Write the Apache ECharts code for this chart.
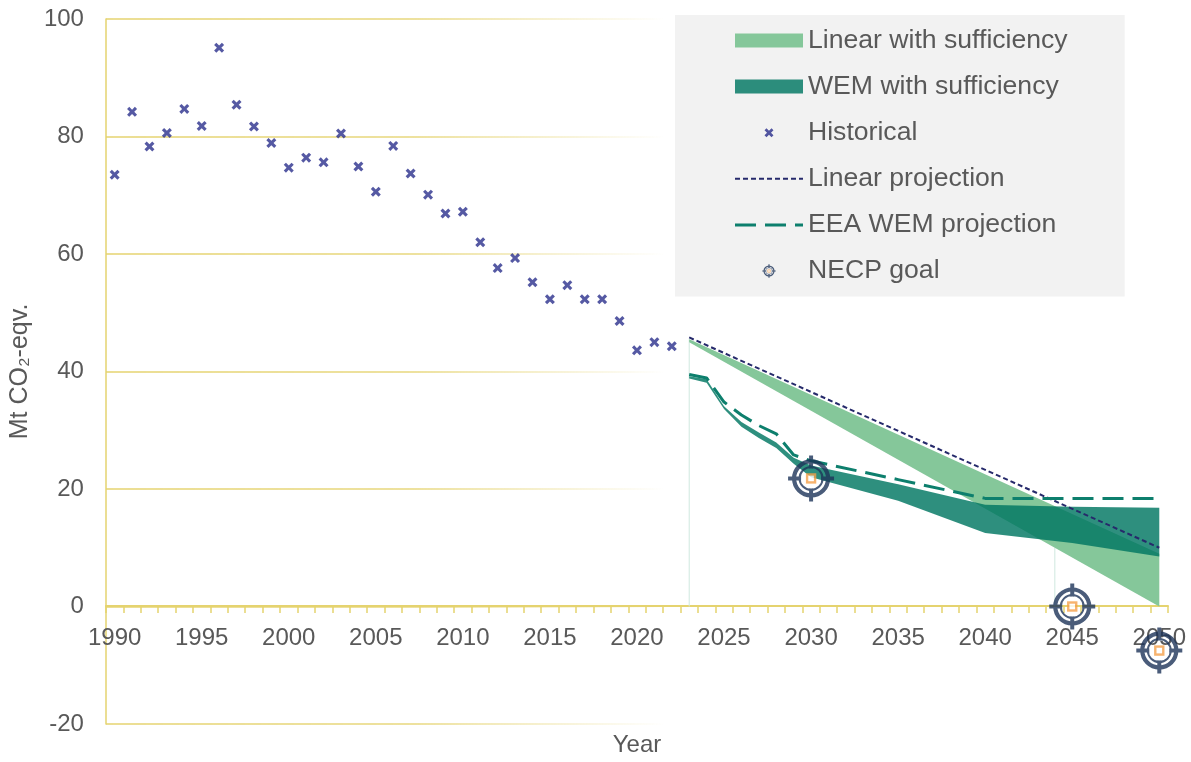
<!DOCTYPE html>
<html>
<head>
<meta charset="utf-8">
<script src="https://cdn.jsdelivr.net/npm/echarts@6/dist/echarts.min.js"></script>
<style>
  html, body { margin: 0; padding: 0; background: #fff; }
  #echarts { width: 1191px; height: 762px; }
</style>
</head>
<body>
<div id="echarts"></div>
<script>
let myChart = echarts.init(document.getElementById('echarts'));

// x axis categories 1990..2050
const yearLabels = Array.from({ length: 61 }, (_, i) => String(1990 + i));

// historical emissions, 1990..2022
const histStart = 1990;
const histValues = [
  73.5, 84.2, 78.3, 80.6, 84.7, 81.8, 95.1, 85.4, 81.7, 78.9,
  74.7, 76.4, 75.6, 80.5, 74.9, 70.6, 78.4, 73.7, 70.1, 66.9,
  67.2, 62.0, 57.6, 59.3, 55.2, 52.3, 54.7, 52.3, 52.3, 48.6,
  43.6, 45.0, 44.3,
];

// linear with sufficiency (band)
const linBandYears = [2023, 2050];
const linBandLow = [45.0, 0];
const linBandHigh = [45.5, 9.0];

// WEM with sufficiency (band)
const wemYears = [2023, 2024, 2025, 2026, 2027, 2028, 2029, 2030, 2035, 2040, 2045, 2050];
const wemLow = [38.8, 38.1, 33.6, 30.6, 28.7, 27.0, 24.3, 22.0, 18.0, 12.5, 10.8, 8.5];
const wemHigh = [39.2, 38.7, 34.1, 31.4, 29.6, 27.9, 25.3, 24.0, 20.8, 17.3, 17.0, 16.8];

// linear projection
const linProjYears = [2023, 2050];
const linProjValues = [45.8, 10.0];

// EEA WEM projection
const eeaYears = [2023, 2024, 2025, 2026, 2027, 2028, 2029, 2030, 2035, 2040, 2045, 2050];
const eeaValues = [39.5, 38.9, 34.8, 32.6, 30.8, 29.4, 25.8, 24.8, 21.6, 18.4, 18.4, 18.4];

// NECP goals
const necpYears = [2030, 2045, 2050];
const necpValues = [21.8, 0, -7.5];

// thin edge lines of the area fills
const edgeLines = [
  [[2023, 0], [2023, 45.5]],
  [[2044, 0], [2044, 10.0]],
];

const axisColor = '#e5d36f';
const textColor = '#595959';
const font = 'Liberation Sans, Arial, sans-serif';
const histColor = '#2b2f8c';
const linProjColor = '#262a6b';
const eeaColor = '#0d7f6d';
const navy = '#1d3459';

const xShape = 'M0,2.2 L2.2,0 L5,2.8 L7.8,0 L10,2.2 L7.2,5 L10,7.8 L7.8,10 L5,7.2 L2.2,10 L0,7.8 L2.8,5 Z';

const svgUri = s => 'image://data:image/svg+xml;charset=utf-8,' + encodeURIComponent(s);
const necpSvg =
  "<svg xmlns='http://www.w3.org/2000/svg' width='48' height='48' viewBox='0 0 48 48'>" +
  "<circle cx='24' cy='24' r='17' fill='none' stroke='" + navy + "' stroke-width='4.2'/>" +
  "<circle cx='24' cy='24' r='11.5' fill='none' stroke='" + navy + "' stroke-width='2'/>" +
  "<path d='M24 1V14M24 34V47M1 24H14M34 24H47' stroke='" + navy + "' stroke-width='4'/>" +
  "<rect x='20' y='20' width='8' height='8' fill='#fff' stroke='#f5a04a' stroke-width='2.4'/>" +
  '</svg>';
const histLegendSvg =
  "<svg xmlns='http://www.w3.org/2000/svg' width='14' height='14' viewBox='0 0 14 14'>" +
  "<path transform='translate(2.5 2.5) scale(0.9)' d='" + xShape + "' fill='" + histColor + "'/>" +
  '</svg>';
const lineSvg = (color, width, dash) =>
  "<svg xmlns='http://www.w3.org/2000/svg' width='68' height='14' viewBox='0 0 68 14'>" +
  "<line x1='0' y1='7' x2='68' y2='7' stroke='" + color + "' stroke-width='" + width +
  "' stroke-dasharray='" + dash + "'/></svg>";

function bandRenderer(xs, lo, hi) {
  return function (params, api) {
    if (params.dataIndex !== 0) return null;
    const points = [];
    xs.forEach((x, i) => points.push(api.coord([x, hi[i]])));
    for (let i = xs.length - 1; i >= 0; i--) points.push(api.coord([xs[i], lo[i]]));
    return {
      type: 'polygon',
      shape: { points },
      style: { fill: api.visual('color') },
    };
  };
}

const gridFade = {
  type: 'linear', x: 105, y: 0, x2: 665, y2: 0, global: true,
  colorStops: [
    { offset: 0, color: 'rgba(229,211,111,1)' },
    { offset: 0.55, color: 'rgba(229,211,111,0.9)' },
    { offset: 1, color: 'rgba(229,211,111,0)' },
  ],
};

let option = {
  animation: false,
  textStyle: { fontFamily: font },
  grid: { left: 105, right: 23, top: 19, bottom: 36 },
  legend: {
    orient: 'vertical',
    left: 675,
    top: 15,
    backgroundColor: '#f2f2f2',
    padding: [12, 57, 12, 60],
    itemWidth: 68,
    itemHeight: 14,
    itemGap: 19.1,
    textStyle: { fontSize: 26.6, color: textColor, fontFamily: font },
    data: [
      { name: 'Linear with sufficiency', icon: 'rect' },
      { name: 'WEM with sufficiency', icon: 'rect' },
      { name: 'Historical', icon: svgUri(histLegendSvg) },
      { name: 'Linear projection', icon: svgUri(lineSvg(linProjColor, 2, '5 3')) },
      { name: 'EEA WEM projection', icon: svgUri(lineSvg(eeaColor, 3, '21 9')) },
      { name: 'NECP goal', icon: svgUri(necpSvg) },
    ],
  },
  xAxis: [
    {
      type: 'category',
      position: 'bottom',
      offset: -118,
      data: yearLabels,
      boundaryGap: true,
      axisLine: { show: true, onZero: false, lineStyle: { color: axisColor, width: 2 } },
      axisTick: { show: true, interval: 0, length: 7, lineStyle: { color: axisColor, width: 1.5 } },
      axisLabel: { interval: 4, fontSize: 24, color: textColor, margin: 20, fontFamily: font },
      splitLine: { show: false },
    },
    {
      type: 'value',
      position: 'bottom',
      min: 1989.5,
      max: 2050.5,
      axisLine: { show: false, onZero: false },
      axisTick: { show: false },
      axisLabel: { show: false },
      splitLine: { show: false },
      name: 'Year',
      nameLocation: 'middle',
      nameGap: 9,
      nameTextStyle: { fontSize: 24, color: textColor, fontFamily: font },
    },
  ],
  yAxis: {
    type: 'value',
    min: -20,
    max: 100,
    interval: 20,
    name: 'Mt CO\u2082-eqv.',
    nameLocation: 'middle',
    nameGap: 66,
    nameTextStyle: { fontSize: 25, color: textColor, fontFamily: font },
    axisLine: { show: true, onZero: false, lineStyle: { color: axisColor, width: 1.5 } },
    axisTick: { show: false },
    axisLabel: { fontSize: 24, color: textColor, margin: 22, fontFamily: font },
    splitLine: { show: true, lineStyle: { color: gridFade, width: 1.5 } },
  },
  series: [
    ...edgeLines.map(pts => ({
      type: 'line',
      xAxisIndex: 1,
      data: pts,
      symbol: 'none',
      silent: true,
      lineStyle: { color: '#cfe8df', width: 1 },
      z: 1,
    })),
    {
      name: 'Linear with sufficiency',
      type: 'custom',
      xAxisIndex: 1,
      itemStyle: { color: '#85c79a' },
      renderItem: bandRenderer(linBandYears, linBandLow, linBandHigh),
      encode: { x: 0, y: [1, 2] },
      data: linBandYears.map((x, i) => [x, linBandLow[i], linBandHigh[i]]),
    },
    {
      name: 'WEM with sufficiency',
      type: 'custom',
      xAxisIndex: 1,
      itemStyle: { color: 'rgba(0,118,98,0.82)' },
      renderItem: bandRenderer(wemYears, wemLow, wemHigh),
      encode: { x: 0, y: [1, 2] },
      data: wemYears.map((x, i) => [x, wemLow[i], wemHigh[i]]),
    },
    {
      name: 'Historical',
      type: 'scatter',
      xAxisIndex: 1,
      symbol: 'path://' + xShape,
      symbolSize: 10,
      itemStyle: { color: histColor },
      data: histValues.map((v, i) => [histStart + i, v]),
    },
    {
      name: 'Linear projection',
      type: 'line',
      xAxisIndex: 1,
      symbol: 'none',
      lineStyle: { color: linProjColor, width: 2, type: [5, 3] },
      itemStyle: { color: linProjColor },
      data: linProjYears.map((x, i) => [x, linProjValues[i]]),
    },
    {
      name: 'EEA WEM projection',
      type: 'line',
      xAxisIndex: 1,
      symbol: 'none',
      lineStyle: { color: eeaColor, width: 3, type: [21, 9] },
      itemStyle: { color: eeaColor },
      data: eeaYears.map((x, i) => [x, eeaValues[i]]),
    },
    {
      name: 'NECP goal',
      type: 'scatter',
      xAxisIndex: 1,
      symbol: svgUri(necpSvg),
      symbolSize: 48,
      clip: false,
      itemStyle: { color: navy },
      z: 5,
      data: necpYears.map((x, i) => [x, necpValues[i]]),
    },
  ],
};
myChart.setOption(option);
</script>
</body>
</html>
